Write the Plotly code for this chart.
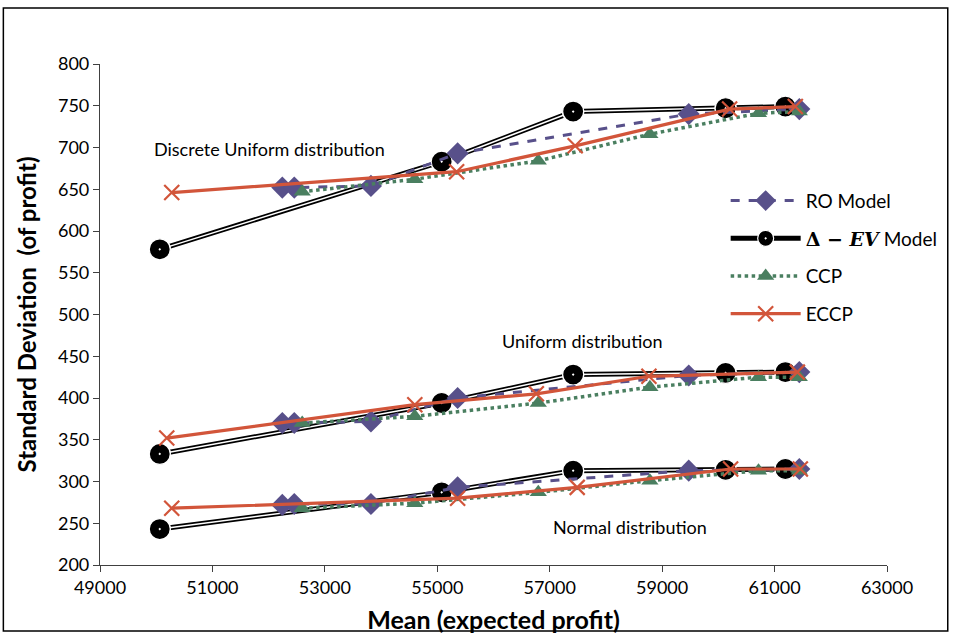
import plotly.graph_objects as go

# Mean (x) per model; same positions in every distribution group
ev_x = [50063, 55078, 57417, 60129, 61192]
ro_x = [52243, 52456, 53820, 55362, 59473, 61440]
ccp_x = [52597, 54600, 56797, 58782, 60714, 61440]
eccp_x_disc = [50276, 55344, 57453, 60200, 61369]
eccp_x_unif = [50187, 54600, 56762, 58765, 61405]
eccp_x_norm = [50276, 55362, 57489, 60218, 61458]

# Standard deviation (y) per model and distribution
ev_disc = [578, 683, 743, 747, 749]
ev_unif = [333, 394, 428, 430, 431]
ev_norm = [243, 287, 313, 314, 315]

ro_disc = [652, 652, 654, 693, 740, 746]
ro_unif = [370, 370, 372, 400, 427, 431]
ro_norm = [272, 273, 273, 293, 313, 315]

ccp_disc = [647, 662, 684, 716, 741, 743]
ccp_unif = [370, 378, 394, 413, 425, 425]
ccp_norm = [268, 274, 287, 301, 313, 313]

eccp_disc = [646, 671, 702, 746, 749]
eccp_unif = [352, 392, 405, 426, 431]
eccp_norm = [268, 280, 293, 315, 315]

group_labels = ["Discrete Uniform distribution", "Uniform distribution", "Normal distribution"]

RO_COL = "#58508A"
CCP_COL = "#4A7F60"
ECCP_COL = "#D2553A"
FONT = "Lato"

fig = go.Figure()

ev_groups = [ev_disc, ev_unif, ev_norm]
ro_groups = [ro_disc, ro_unif, ro_norm]
ccp_groups = [ccp_disc, ccp_unif, ccp_norm]
eccp_groups = [(eccp_x_disc, eccp_disc), (eccp_x_unif, eccp_unif), (eccp_x_norm, eccp_norm)]

ev_name = ("<span style='font-family:DejaVu Serif;font-size:19px'><b>Δ − <i>EV</i></b></span>"
           " Model")

# Delta-EV: double line (black outer, white inner) and big black markers
for i, ys in enumerate(ev_groups):
    fig.add_scatter(x=ev_x, y=ys, mode="lines+markers", name=ev_name,
                    line=dict(color="black", width=5),
                    marker=dict(symbol="circle-dot", size=21, color="black",
                                line=dict(color="white", width=1.2)),
                    legendgroup="ev", showlegend=(i == 0), legendrank=2)
    fig.add_scatter(x=ev_x, y=ys, mode="lines", line=dict(color="white", width=1.5),
                    showlegend=False, hoverinfo="skip")
    fig.add_scatter(x=ev_x, y=ys, mode="markers",
                    marker=dict(symbol="circle-dot", size=21, color="black",
                                line=dict(color="white", width=1.2)),
                    showlegend=False, hoverinfo="skip")

for i, ys in enumerate(ro_groups):
    fig.add_scatter(x=ro_x, y=ys, mode="lines+markers", name="RO Model",
                    line=dict(color=RO_COL, width=3, dash="dash"),
                    marker=dict(symbol="diamond", size=17, color=RO_COL),
                    legendgroup="ro", showlegend=(i == 0), legendrank=1)

for i, ys in enumerate(ccp_groups):
    fig.add_scatter(x=ccp_x, y=ys, mode="lines+markers", name="CCP",
                    line=dict(color=CCP_COL, width=3.5, dash="dot"),
                    marker=dict(symbol="triangle-up", size=15, color=CCP_COL),
                    legendgroup="ccp", showlegend=(i == 0), legendrank=3)

for i, (xs, ys) in enumerate(eccp_groups):
    fig.add_scatter(x=xs, y=ys, mode="lines+markers", name="ECCP",
                    line=dict(color=ECCP_COL, width=3.2),
                    marker=dict(symbol="x-thin", size=15, color=ECCP_COL,
                                line=dict(color=ECCP_COL, width=2.2)),
                    legendgroup="eccp", showlegend=(i == 0), legendrank=4)

# distribution labels
label_pos = [(49921, 698), (56124, 468), (57028, 246)]
for txt, (lx, ly) in zip(group_labels, label_pos):
    fig.add_annotation(x=lx, y=ly, text=txt, showarrow=False, xanchor="left",
                       font=dict(family=FONT, size=18, color="black"))

# outer frame
fig.add_shape(type="rect", xref="paper", yref="paper",
              x0=-0.1228, x1=1.0772, y0=-0.1317, y1=1.1118,
              line=dict(color="black", width=1.5))

fig.update_layout(
    width=955, height=634,
    margin=dict(l=100, r=65, t=64, b=69),
    plot_bgcolor="white", paper_bgcolor="white",
    font=dict(family=FONT, size=18, color="black"),
    legend=dict(x=0.795, y=0.765, xanchor="left", yanchor="top",
                font=dict(family=FONT, size=19), itemwidth=70,
                tracegroupgap=10, bgcolor="rgba(0,0,0,0)"),
)
fig.update_xaxes(range=[49000, 63000], tick0=49000, dtick=2000,
                 showline=True, linecolor="#404040", linewidth=1.2,
                 ticks="outside", ticklen=6, tickcolor="#404040",
                 showgrid=False, zeroline=False, tickformat="d", automargin=False,
                 title=dict(text="<b>Mean (expected profit)</b>",
                            font=dict(family=FONT, size=25), standoff=14))
fig.update_yaxes(range=[200, 800], tick0=200, dtick=50,
                 showline=True, linecolor="#404040", linewidth=1.2,
                 ticks="outside", ticklen=6, tickcolor="#404040",
                 showgrid=False, zeroline=False, automargin=False,
                 title=dict(text="<b>Standard Deviation  (of profit)</b>",
                            font=dict(family=FONT, size=24), standoff=14))

fig.write_html("out.html", config={"displayModeBar": False},
               post_script="document.body.style.margin='0px';")
